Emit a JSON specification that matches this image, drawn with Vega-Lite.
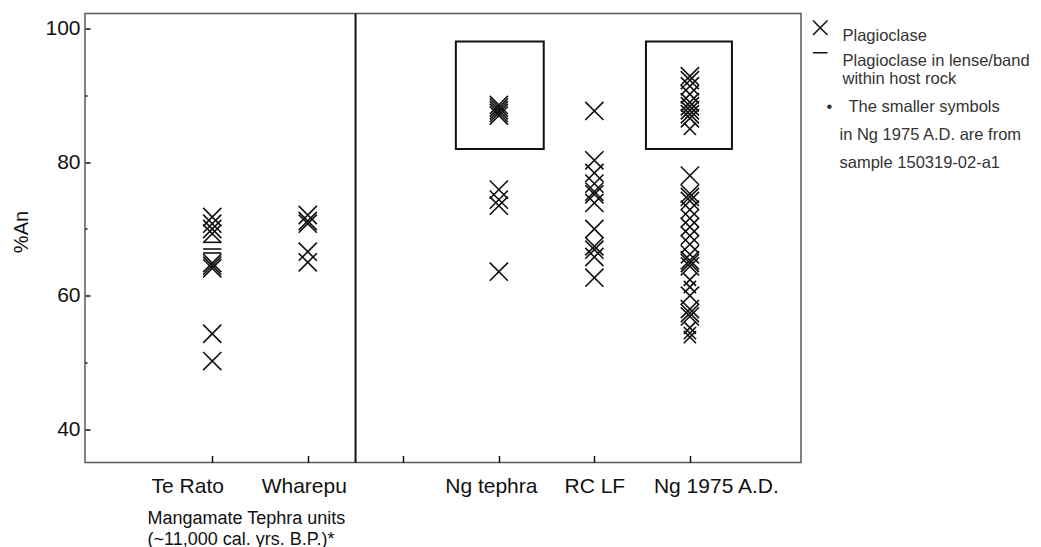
{
  "$schema": "https://vega.github.io/schema/vega-lite/v6.json",
  "width": 716,
  "height": 449,
  "autosize": {"type": "none"},
  "padding": {"left": 85, "top": 13.5, "right": 240, "bottom": 84.5},
  "config": {
    "font": "Liberation Sans",
    "view": {"stroke": "#595959", "strokeWidth": 1.5}
  },
  "datasets": {
    "points": [
      {"unit": "Te Rato", "pos": 2, "an": 71.8, "type": "Plagioclase", "sample": "main"},
      {"unit": "Te Rato", "pos": 2, "an": 70.8, "type": "Plagioclase", "sample": "main"},
      {"unit": "Te Rato", "pos": 2, "an": 70.0, "type": "Plagioclase", "sample": "main"},
      {"unit": "Te Rato", "pos": 2, "an": 69.3, "type": "Plagioclase", "sample": "main"},
      {"unit": "Te Rato", "pos": 2, "an": 68.0, "type": "Plagioclase in lense/band within host rock", "sample": "main"},
      {"unit": "Te Rato", "pos": 2, "an": 67.0, "type": "Plagioclase in lense/band within host rock", "sample": "main"},
      {"unit": "Te Rato", "pos": 2, "an": 66.4, "type": "Plagioclase in lense/band within host rock", "sample": "main"},
      {"unit": "Te Rato", "pos": 2, "an": 64.9, "type": "Plagioclase", "sample": "main"},
      {"unit": "Te Rato", "pos": 2, "an": 64.5, "type": "Plagioclase", "sample": "main"},
      {"unit": "Te Rato", "pos": 2, "an": 64.1, "type": "Plagioclase", "sample": "main"},
      {"unit": "Te Rato", "pos": 2, "an": 54.3, "type": "Plagioclase", "sample": "main"},
      {"unit": "Te Rato", "pos": 2, "an": 50.2, "type": "Plagioclase", "sample": "main"},
      {"unit": "Wharepu", "pos": 3, "an": 72.1, "type": "Plagioclase", "sample": "main"},
      {"unit": "Wharepu", "pos": 3, "an": 71.2, "type": "Plagioclase", "sample": "main"},
      {"unit": "Wharepu", "pos": 3, "an": 70.8, "type": "Plagioclase", "sample": "main"},
      {"unit": "Wharepu", "pos": 3, "an": 66.6, "type": "Plagioclase", "sample": "main"},
      {"unit": "Wharepu", "pos": 3, "an": 65.0, "type": "Plagioclase", "sample": "main"},
      {"unit": "Ng tephra", "pos": 5, "an": 88.6, "type": "Plagioclase", "sample": "main"},
      {"unit": "Ng tephra", "pos": 5, "an": 88.2, "type": "Plagioclase", "sample": "main"},
      {"unit": "Ng tephra", "pos": 5, "an": 87.8, "type": "Plagioclase", "sample": "main"},
      {"unit": "Ng tephra", "pos": 5, "an": 87.4, "type": "Plagioclase", "sample": "main"},
      {"unit": "Ng tephra", "pos": 5, "an": 87.0, "type": "Plagioclase", "sample": "main"},
      {"unit": "Ng tephra", "pos": 5, "an": 75.9, "type": "Plagioclase", "sample": "main"},
      {"unit": "Ng tephra", "pos": 5, "an": 74.4, "type": "Plagioclase", "sample": "main"},
      {"unit": "Ng tephra", "pos": 5, "an": 73.5, "type": "Plagioclase", "sample": "main"},
      {"unit": "Ng tephra", "pos": 5, "an": 63.6, "type": "Plagioclase", "sample": "main"},
      {"unit": "RC LF", "pos": 6, "an": 87.7, "type": "Plagioclase", "sample": "main"},
      {"unit": "RC LF", "pos": 6, "an": 80.3, "type": "Plagioclase", "sample": "main"},
      {"unit": "RC LF", "pos": 6, "an": 78.4, "type": "Plagioclase", "sample": "main"},
      {"unit": "RC LF", "pos": 6, "an": 76.8, "type": "Plagioclase", "sample": "main"},
      {"unit": "RC LF", "pos": 6, "an": 75.6, "type": "Plagioclase", "sample": "main"},
      {"unit": "RC LF", "pos": 6, "an": 75.2, "type": "Plagioclase", "sample": "main"},
      {"unit": "RC LF", "pos": 6, "an": 73.9, "type": "Plagioclase", "sample": "main"},
      {"unit": "RC LF", "pos": 6, "an": 70.0, "type": "Plagioclase", "sample": "main"},
      {"unit": "RC LF", "pos": 6, "an": 67.4, "type": "Plagioclase", "sample": "main"},
      {"unit": "RC LF", "pos": 6, "an": 66.9, "type": "Plagioclase", "sample": "main"},
      {"unit": "RC LF", "pos": 6, "an": 65.8, "type": "Plagioclase", "sample": "main"},
      {"unit": "RC LF", "pos": 6, "an": 62.7, "type": "Plagioclase", "sample": "main"},
      {"unit": "Ng 1975 A.D.", "pos": 7, "an": 92.9, "type": "Plagioclase", "sample": "main"},
      {"unit": "Ng 1975 A.D.", "pos": 7, "an": 92.3, "type": "Plagioclase", "sample": "main"},
      {"unit": "Ng 1975 A.D.", "pos": 7, "an": 91.4, "type": "Plagioclase", "sample": "main"},
      {"unit": "Ng 1975 A.D.", "pos": 7, "an": 90.2, "type": "Plagioclase", "sample": "main"},
      {"unit": "Ng 1975 A.D.", "pos": 7, "an": 89.0, "type": "Plagioclase", "sample": "main"},
      {"unit": "Ng 1975 A.D.", "pos": 7, "an": 88.4, "type": "Plagioclase", "sample": "main"},
      {"unit": "Ng 1975 A.D.", "pos": 7, "an": 87.8, "type": "Plagioclase", "sample": "main"},
      {"unit": "Ng 1975 A.D.", "pos": 7, "an": 87.2, "type": "Plagioclase", "sample": "main"},
      {"unit": "Ng 1975 A.D.", "pos": 7, "an": 86.6, "type": "Plagioclase", "sample": "main"},
      {"unit": "Ng 1975 A.D.", "pos": 7, "an": 85.0, "type": "Plagioclase", "sample": "150319-02-a1"},
      {"unit": "Ng 1975 A.D.", "pos": 7, "an": 78.0, "type": "Plagioclase", "sample": "main"},
      {"unit": "Ng 1975 A.D.", "pos": 7, "an": 75.3, "type": "Plagioclase", "sample": "main"},
      {"unit": "Ng 1975 A.D.", "pos": 7, "an": 74.8, "type": "Plagioclase", "sample": "main"},
      {"unit": "Ng 1975 A.D.", "pos": 7, "an": 74.2, "type": "Plagioclase", "sample": "main"},
      {"unit": "Ng 1975 A.D.", "pos": 7, "an": 72.9, "type": "Plagioclase", "sample": "main"},
      {"unit": "Ng 1975 A.D.", "pos": 7, "an": 71.6, "type": "Plagioclase", "sample": "main"},
      {"unit": "Ng 1975 A.D.", "pos": 7, "an": 70.3, "type": "Plagioclase", "sample": "main"},
      {"unit": "Ng 1975 A.D.", "pos": 7, "an": 69.0, "type": "Plagioclase", "sample": "main"},
      {"unit": "Ng 1975 A.D.", "pos": 7, "an": 67.7, "type": "Plagioclase", "sample": "main"},
      {"unit": "Ng 1975 A.D.", "pos": 7, "an": 66.2, "type": "Plagioclase", "sample": "main"},
      {"unit": "Ng 1975 A.D.", "pos": 7, "an": 65.3, "type": "Plagioclase", "sample": "main"},
      {"unit": "Ng 1975 A.D.", "pos": 7, "an": 64.9, "type": "Plagioclase", "sample": "main"},
      {"unit": "Ng 1975 A.D.", "pos": 7, "an": 64.4, "type": "Plagioclase", "sample": "main"},
      {"unit": "Ng 1975 A.D.", "pos": 7, "an": 62.4, "type": "Plagioclase", "sample": "150319-02-a1"},
      {"unit": "Ng 1975 A.D.", "pos": 7, "an": 61.3, "type": "Plagioclase", "sample": "150319-02-a1"},
      {"unit": "Ng 1975 A.D.", "pos": 7, "an": 60.0, "type": "Plagioclase", "sample": "main"},
      {"unit": "Ng 1975 A.D.", "pos": 7, "an": 58.0, "type": "Plagioclase", "sample": "main"},
      {"unit": "Ng 1975 A.D.", "pos": 7, "an": 57.4, "type": "Plagioclase", "sample": "main"},
      {"unit": "Ng 1975 A.D.", "pos": 7, "an": 56.9, "type": "Plagioclase", "sample": "main"},
      {"unit": "Ng 1975 A.D.", "pos": 7, "an": 55.2, "type": "Plagioclase", "sample": "150319-02-a1"},
      {"unit": "Ng 1975 A.D.", "pos": 7, "an": 54.4, "type": "Plagioclase", "sample": "150319-02-a1"},
      {"unit": "Ng 1975 A.D.", "pos": 7, "an": 53.8, "type": "Plagioclase", "sample": "150319-02-a1"}
    ],
    "boxes": [
      {"unit": "Ng tephra", "x1": 4.55, "x2": 5.47, "y1": 82, "y2": 98.1},
      {"unit": "Ng 1975 A.D.", "x1": 6.54, "x2": 7.44, "y1": 82, "y2": 98.1}
    ]
  },
  "layer": [
    {
      "data": {"name": "points"},
      "mark": {"type": "point", "filled": false, "strokeWidth": 1.6, "opacity": 1, "color": "#111"},
      "encoding": {
        "x": {
          "field": "pos", "type": "quantitative",
          "scale": {"domain": [0.668, 8.163], "nice": false, "zero": false},
          "axis": {
            "values": [2, 3, 4, 5, 6, 7],
            "labelExpr": "datum.value == 2 ? 'Te Rato' : datum.value == 3 ? 'Wharepu' : datum.value == 5 ? 'Ng tephra' : datum.value == 6 ? 'RC LF' : datum.value == 7 ? 'Ng 1975 A.D.' : ''",
            "labelOffset": {"condition": [
              {"test": "datum.value == 2", "value": -25},
              {"test": "datum.value == 3", "value": -4},
              {"test": "datum.value == 5", "value": -8},
              {"test": "datum.value == 7", "value": 26}
            ], "value": 0},
            "domain": false, "grid": false,
            "tickSize": -7, "tickColor": "#111", "tickWidth": 1.5,
            "labelFontSize": 21, "labelColor": "#111", "labelPadding": 20, "labelBaseline": "top",
            "title": ["Mangamate Tephra units", "(~11,000 cal. yrs. B.P.)*"],
            "titleFontSize": 18, "titleFontWeight": "normal", "titleColor": "#111",
            "titleAlign": "left", "titleAnchor": "start", "titleX": 62, "titleY": 46.5,
            "titleBaseline": "top", "titleLineHeight": 21
          }
        },
        "y": {
          "field": "an", "type": "quantitative",
          "scale": {"domain": [35, 102.3], "nice": false, "zero": false},
          "axis": {
            "values": [40, 50, 60, 70, 80, 90, 100],
            "labelExpr": "datum.value % 20 == 0 ? datum.label : ''",
            "domain": false, "grid": false,
            "tickSize": {"condition": {"test": "datum.value % 20 == 0", "value": -5}, "value": -2},
            "tickColor": "#111", "tickWidth": 1.5,
            "labelFontSize": 21, "labelColor": "#111", "labelPadding": 10,
            "title": "%An", "titleFontSize": 20, "titleFontWeight": "normal", "titleColor": "#111",
            "titleX": -64, "titleY": 218, "titleBaseline": "middle", "titleAlign": "center", "titleAngle": -90
          }
        },
        "shape": {
          "field": "type", "type": "nominal",
          "scale": {
            "domain": ["Plagioclase", "Plagioclase in lense/band within host rock"],
            "range": ["M-1,-1L1,1M-1,1L1,-1", "M-1,0L1,0"]
          },
          "legend": {
            "orient": "none", "legendX": 727, "legendY": 6, "title": null, "padding": 0,
            "labelExpr": "datum.label == 'Plagioclase in lense/band within host rock' ? ['Plagioclase in lense/band', 'within host rock'] : datum.label",
            "symbolSize": 210, "symbolStrokeWidth": 1.5, "symbolStrokeColor": "#111", "symbolFillColor": "transparent",
            "labelFontSize": 16.5, "labelColor": "#333", "labelBaseline": "top", "labelOffset": 14,
            "rowPadding": 0, "labelLimit": 400
          }
        },
        "size": {
          "field": "sample", "type": "nominal",
          "scale": {"domain": ["main", "150319-02-a1"], "range": [330, 150]},
          "legend": null
        }
      }
    },
    {
      "data": {"name": "boxes"},
      "mark": {"type": "rect", "fill": null, "stroke": "#111", "strokeWidth": 2},
      "encoding": {
        "x": {"field": "x1", "type": "quantitative"},
        "x2": {"field": "x2"},
        "y": {"field": "y1", "type": "quantitative"},
        "y2": {"field": "y2"}
      }
    },
    {
      "data": {"values": [{}]},
      "mark": {"type": "rule", "stroke": "#111", "strokeWidth": 2},
      "encoding": {
        "x": {"datum": 3.5, "type": "quantitative"}
      }
    },
    {
      "data": {"values": [{}]},
      "mark": {"type": "text", "text": "•", "fontSize": 16.5, "color": "#333", "align": "left", "baseline": "middle"},
      "encoding": {
        "x": {"datum": 8.43, "type": "quantitative"},
        "y": {"datum": 88.3, "type": "quantitative"}
      }
    },
    {
      "data": {"values": [{}]},
      "mark": {"type": "text", "text": "The smaller symbols", "fontSize": 16.5, "color": "#333", "align": "left", "baseline": "middle"},
      "encoding": {
        "x": {"datum": 8.66, "type": "quantitative"},
        "y": {"datum": 88.3, "type": "quantitative"}
      }
    },
    {
      "data": {"values": [{}]},
      "mark": {"type": "text", "text": "in Ng 1975 A.D. are from", "fontSize": 16.5, "color": "#333", "align": "left", "baseline": "middle"},
      "encoding": {
        "x": {"datum": 8.566, "type": "quantitative"},
        "y": {"datum": 84.1, "type": "quantitative"}
      }
    },
    {
      "data": {"values": [{}]},
      "mark": {"type": "text", "text": "sample 150319-02-a1", "fontSize": 16.5, "color": "#333", "align": "left", "baseline": "middle"},
      "encoding": {
        "x": {"datum": 8.566, "type": "quantitative"},
        "y": {"datum": 79.9, "type": "quantitative"}
      }
    }
  ]
}
